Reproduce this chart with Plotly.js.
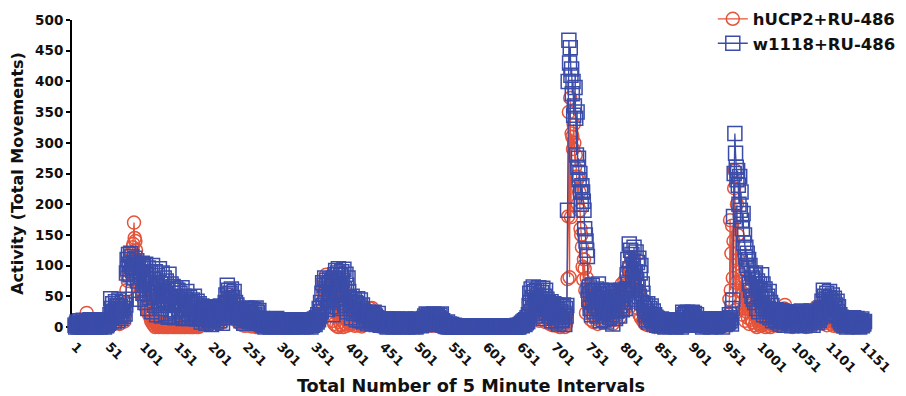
<!DOCTYPE html>
<html><head><meta charset="utf-8">
<script src="https://cdn.plot.ly/plotly-3.0.1.min.js"></script>
<style>html,body{margin:0;padding:0;background:#fff;}</style>
</head><body><div id="chart" style="width:906px;height:396px;"></div>
<script>
const seriesNames = ['hUCP2+RU-486', 'w1118+RU-486'];
const tickLabels = ['1','51','101','151','201','251','301','351','401','451','501','551','601','651','701','751','801','851','901','951','1001','1051','1101','1151'];
const xTitle = 'Total Number of 5 Minute Intervals';
const yTitle = 'Activity (Total Movements)';

// hUCP2+RU-486 activity per 5-minute interval (1..1152)
const hUCP2 = [
2,5,0,7,3,9,1,4,6,0, 8,3,5,0,10,4,7,23,6,2, 0,5,9,3,1,7,4,0,6,8, 2,10,4,0,6,3,8,1,5,7, 0,4,9,2,6,11,3,0,7,5,
8,15,25,12,30,18,6,22,35,14, 20,10,28,16,32,5,24,18,12,30, 15,26,9,20,40,60,85,75,100,90, 110,95,120,105,130,135,170,145,140,125, 110,95,100,80,70,85,60,65,50,55,
45,52,35,40,30,38,25,28,20,22, 15,10,18,6,12,3,8,0,5,10, 2,6,0,4,8,1,3,0,7,2, 0,5,1,3,0,6,2,0,4,1, 3,0,2,5,0,1,4,0,2,6,
0,3,1,0,5,2,0,4,1,0, 2,0,6,1,3,0,2,5,0,1, 4,0,2,0,3,6,1,0,2,4, 0,5,2,8,3,10,6,12,4,9, 14,8,18,11,6,15,20,9,16,12,
18,10,22,14,8,20,16,12,25,6, 15,20,10,24,18,8,22,14,26,30, 35,20,45,28,40,52,38,25,48,30, 22,35,15,28,18,24,10,20,14,8, 12,5,16,9,3,14,7,11,2,10,
6,12,3,9,15,4,10,1,8,13, 5,11,2,7,14,0,9,4,12,6, 3,8,1,5,10,0,6,2,9,4, 7,0,5,3,8,1,6,0,4,9, 2,5,0,7,3,10,1,4,6,0,
4,8,1,6,0,9,3,5,2,7, 0,6,3,10,1,5,8,2,4,0, 7,3,9,1,5,0,8,4,2,6, 1,9,3,6,0,4,7,2,10,5, 3,8,0,6,2,9,4,1,7,3,
5,10,3,12,8,15,20,10,25,18, 40,30,55,70,45,62,85,50,35,75, 60,28,80,42,20,65,10,55,5,30, 72,2,50,80,0,45,8,66,3,88, 40,0,60,15,5,35,2,28,8,20,
10,25,4,18,30,6,14,22,2,20, 8,15,3,12,20,5,10,18,1,14, 6,10,22,4,15,28,9,12,20,26, 30,18,24,31,14,20,8,16,5,12, 3,10,6,1,8,4,9,2,7,0,
5,2,8,0,6,3,9,1,4,7, 0,6,2,8,4,1,7,3,5,0, 8,2,6,0,4,9,1,5,3,7, 2,6,0,8,3,5,1,9,4,0, 6,3,8,1,5,0,7,2,4,9,
3,7,0,5,9,2,6,1,8,4, 10,6,14,3,12,8,15,5,11,2, 9,13,4,16,7,10,2,12,6,14, 5,9,1,8,3,6,0,4,2,5, 1,3,0,2,0,1,4,0,2,1,
0,1,0,0,2,0,1,0,0,0, 1,0,0,0,1,0,0,2,0,0, 0,0,1,0,0,0,0,1,0,0, 0,1,0,0,0,2,0,0,0,1, 0,0,0,1,0,0,1,0,0,0,
0,0,1,0,0,0,0,1,0,0, 1,0,0,0,1,0,0,0,0,1, 0,0,0,1,0,0,1,0,0,0, 0,1,0,0,0,0,1,0,0,1, 0,0,2,0,1,0,0,3,0,2,
2,5,1,4,8,3,10,6,12,8, 15,10,25,18,30,12,35,22,40,16, 28,38,14,32,20,44,26,10,36,24, 30,18,42,12,34,26,8,38,22,30, 15,28,5,25,12,20,3,18,10,22,
8,15,2,12,20,5,10,0,14,6, 18,3,12,8,0,15,5,20,78,180, 350,81,373,179,315,310,290,330,300,260, 280,245,240,200,244,220,190,160,150,130, 98,77,110,95,60,23,80,55,70,40,
30,45,12,38,20,50,8,35,25,42, 15,30,5,40,22,10,35,18,28,55, 40,12,30,48,8,25,35,15,45,20, 10,32,18,40,5,28,22,38,12,30, 45,20,35,50,15,60,30,70,25,55,
40,75,30,60,85,50,95,70,100,65, 90,114,80,105,60,110,75,95,40,85, 70,30,60,20,50,15,35,45,10,25, 18,5,22,10,15,3,12,20,8,14, 5,10,2,8,12,0,6,9,3,7,
2,6,0,5,8,1,4,7,0,3, 6,1,8,3,0,5,9,2,4,7, 0,5,3,8,1,6,2,9,4,0, 7,2,5,0,8,3,12,6,10,4, 14,8,3,11,6,15,2,9,12,5,
10,4,13,7,2,9,5,11,3,8, 6,1,9,4,10,2,7,0,5,8, 3,9,1,6,0,8,4,10,2,7, 5,0,8,3,9,1,6,4,10,2, 7,3,0,9,5,12,2,8,15,4,
5,10,3,20,45,174,60,120,165,80, 140,226,255,28,72,200,150,110,90,60, 75,40,85,20,55,30,65,10,45,25, 50,15,35,5,28,60,12,40,8,22, 30,3,18,25,0,14,20,6,12,2,
8,15,3,10,20,5,12,0,18,6, 10,2,14,7,0,12,4,9,16,3, 11,5,15,8,20,2,12,25,6,18, 10,22,28,15,30,36,20,12,8,16, 4,10,14,2,8,12,0,6,15,9,
5,12,8,15,3,18,22,10,6,14, 2,9,12,4,16,7,0,11,5,13, 8,15,3,10,18,6,12,20,25,14, 28,33,22,30,18,12,25,8,15,10, 20,6,14,24,9,18,3,12,16,7,
13,20,5,16,9,22,2,11,14,6, 10,3,8,12,0,7,5,9,2,6, 4,8,1,6,0,5,9,2,7,3, 6,0,4,8,2,5,1,7,3,0, 5,2,8,0,4,6,1,3,7,2,
0,4
];

// w1118+RU-486 activity per 5-minute interval (1..1152)
const w1118 = [
3,0,5,8,2,0,6,10,4,1, 0,7,11,3,5,0,2,9,6,0, 4,8,12,3,0,5,7,2,10,6, 1,0,4,9,11,5,2,0,6,8, 3,12,7,0,5,10,2,4,9,6,
12,20,46,30,15,38,25,8,18,41, 22,35,10,28,44,19,33,14,26,40, 17,30,45,21,36,88,110,95,118,102, 85,120,98,115,92,105,80,112,96,88, 108,75,100,60,90,45,95,82,104,55,
98,70,40,102,85,55,30,96,72,48, 88,62,25,100,78,50,35,90,67,20, 84,58,42,95,30,70,18,88,52,38, 80,45,22,75,60,35,16,86,50,28, 70,40,18,66,55,25,15,62,36,48,
60,30,16,55,42,20,64,35,14,50, 28,45,15,58,38,22,14,48,30,40, 18,44,32,15,50,25,36,13,42,20, 30,38,14,26,8,34,20,28,12,32, 22,6,30,18,26,10,33,15,24,4,
20,28,12,32,18,25,8,30,22,14, 26,10,34,19,28,6,24,31,16,40, 52,38,68,45,60,30,55,42,62,25, 48,35,58,20,40,28,36,15,30,22, 18,26,10,24,14,20,6,22,12,16,
25,31,14,28,9,22,30,12,26,18, 8,29,20,15,31,10,24,6,27,14, 12,5,10,14,3,8,11,0,6,13, 4,9,12,2,7,0,10,5,13,3, 8,11,1,6,14,4,9,0,12,7,
5,10,2,8,0,11,4,7,9,1, 6,12,3,0,8,10,2,5,9,4, 0,7,11,3,6,1,9,4,8,2, 10,5,0,12,3,7,9,1,6,4, 8,2,11,5,0,9,3,10,6,13,
4,10,15,8,20,12,30,18,40,25, 55,72,35,68,80,48,62,76,28,70, 45,78,58,33,74,66,20,80,52,85, 92,60,40,88,95,70,30,84,55,90, 76,45,94,62,35,86,68,25,80,58,
48,30,42,15,50,36,22,45,28,40, 12,38,46,25,34,10,44,30,20,36, 26,8,24,18,22,12,20,5,24,16, 10,22,14,6,20,12,24,8,18,4, 15,10,22,7,12,3,9,13,5,11,
8,12,3,10,6,0,13,5,9,2, 11,7,13,4,0,10,6,12,3,8, 5,13,9,1,7,11,4,0,12,6, 10,3,8,13,5,0,9,11,2,7, 12,6,1,10,4,13,8,0,5,9,
6,10,3,12,8,2,11,5,14,9, 18,12,21,8,16,20,10,19,14,6, 20,15,9,21,12,18,4,17,20,11, 16,8,19,13,21,5,10,3,7,2, 6,1,4,8,0,3,5,2,0,4,
2,0,1,3,0,0,2,1,0,2, 0,1,0,2,0,1,0,0,2,1, 0,0,1,0,2,0,1,0,0,1, 2,0,0,1,0,0,2,0,1,0, 0,1,0,0,2,0,0,1,0,0,
1,0,0,2,0,1,0,0,0,2, 0,0,1,0,0,2,0,1,0,0, 1,0,0,0,2,0,0,1,0,0, 0,2,0,0,1,0,0,0,2,0, 1,0,0,2,0,3,1,0,2,4,
3,6,2,8,5,10,4,12,7,15, 9,20,35,55,40,62,25,48,65,30, 58,44,18,60,36,52,64,28,46,22, 56,38,63,14,50,32,60,24,45,30, 40,18,35,26,41,10,32,22,38,15,
30,8,36,20,28,5,34,16,25,12, 33,10,36,22,4,30,18,35,190,400, 467,430,455,410,420,380,400,345,360,390, 340,280,350,260,275,240,250,220,200,230, 220,205,190,160,150,140,125,115,60,45,
65,30,55,20,68,40,58,25,50,35, 62,18,45,70,28,52,10,60,38,22, 55,12,48,30,58,8,42,25,54,16, 36,60,20,48,5,55,30,44,14,58, 26,50,40,57,18,35,60,45,28,52,
40,58,30,55,62,85,110,70,135,95, 125,60,118,80,100,130,45,90,122,75, 105,65,112,50,88,100,40,70,55,38, 30,20,36,12,25,38,8,22,30,15, 34,10,18,26,5,20,12,16,3,14,
8,12,4,10,6,13,2,9,11,5, 0,10,7,12,3,11,6,9,1,12, 8,4,11,2,10,7,0,12,5,9, 3,11,6,10,0,8,24,15,20,10, 22,5,18,24,12,8,21,16,3,19,
24,10,17,22,6,14,20,9,12,5, 10,13,3,8,12,0,11,6,13,4, 9,12,2,10,13,5,8,0,11,7, 13,4,10,12,6,1,9,13,3,11, 7,12,5,10,0,13,8,11,4,9,
12,6,13,8,20,10,15,5,30,44, 180,250,315,283,260,240,255,231,200,245, 190,220,174,160,185,137,150,114,130,100, 120,95,110,70,100,60,88,50,80,45, 85,40,88,65,30,75,55,25,70,48,
60,85,35,70,20,55,62,28,45,18, 50,30,58,15,40,25,35,10,28,20, 25,12,28,18,8,22,16,27,5,20, 14,26,10,22,3,18,25,8,20,12, 24,6,16,21,11,2,19,25,9,15,
22,10,18,4,25,14,8,20,12,26, 6,17,23,11,2,19,14,24,9,16, 21,5,13,26,10,18,3,22,15,8, 18,24,7,14,20,11,28,16,30,42, 25,60,38,50,20,45,55,32,40,48,
58,35,44,28,52,40,22,47,30,36, 18,42,25,33,12,20,8,16,5,14, 10,3,15,7,12,0,9,14,4,11, 6,13,2,10,8,15,1,12,5,9, 14,3,11,6,0,10,7,13,2,8,
5,9
];

const intervals = w1118.map((_, i) => i + 1);
const tickVals = tickLabels.map(Number);

const red = '#E5533A';
const blue = '#3A4CA8';
const FONT = 'DejaVu Sans, Verdana, sans-serif';

const traces = [
  {
    x: intervals, y: hUCP2, name: seriesNames[0], type: 'scatter', mode: 'lines+markers',
    line: {color: red, width: 1.3},
    marker: {symbol: 'circle-open', size: 13, color: red, line: {color: red, width: 1.5}},
    cliponaxis: false
  },
  {
    x: intervals, y: w1118, name: seriesNames[1], type: 'scatter', mode: 'lines+markers',
    line: {color: blue, width: 1.3},
    marker: {symbol: 'square-open', size: 14, color: blue, line: {color: blue, width: 1.5}},
    cliponaxis: false
  }
];

const layout = {
  width: 906, height: 396,
  margin: {l: 72, r: 36, t: 20, b: 69, pad: 0, autoexpand: false},
  paper_bgcolor: '#ffffff', plot_bgcolor: '#ffffff',
  font: {family: FONT, size: 13, color: '#111', weight: 'bold'},
  showlegend: true,
  legend: {
    x: 0.803, xanchor: 'left', y: 1.06, yanchor: 'top',
    font: {family: FONT, size: 16.5, color: '#111', weight: 'bold'},
    bgcolor: 'rgba(0,0,0,0)', tracegroupgap: 0
  },
  xaxis: {
    range: [-3.4, 1160], tickmode: 'array', tickvals: tickVals, ticktext: tickLabels,
    tickangle: 45, ticks: 'outside', ticklen: 6, tickcolor: 'rgba(0,0,0,0)',
    showgrid: false, zeroline: false, showline: false,
    automargin: false,
    tickfont: {family: FONT, size: 13, color: '#111', weight: 'bold'},
    title: {text: xTitle, font: {family: FONT, size: 17.7, color: '#111', weight: 'bold'}, standoff: 10}
  },
  yaxis: {
    range: [0, 500], tick0: 0, dtick: 50, ticks: 'outside', ticklen: 4, tickwidth: 2, tickcolor: '#000',
    showgrid: false, zeroline: false, showline: true, linecolor: '#000', linewidth: 2,
    layer: 'below traces', automargin: false,
    tickfont: {family: FONT, size: 13.5, color: '#111', weight: 'bold'},
    title: {text: yTitle, font: {family: FONT, size: 16, color: '#111', weight: 'bold'}, standoff: 8}
  }
};

Plotly.newPlot('chart', traces, layout, {displayModeBar: false, staticPlot: true});
</script>
</body></html>
